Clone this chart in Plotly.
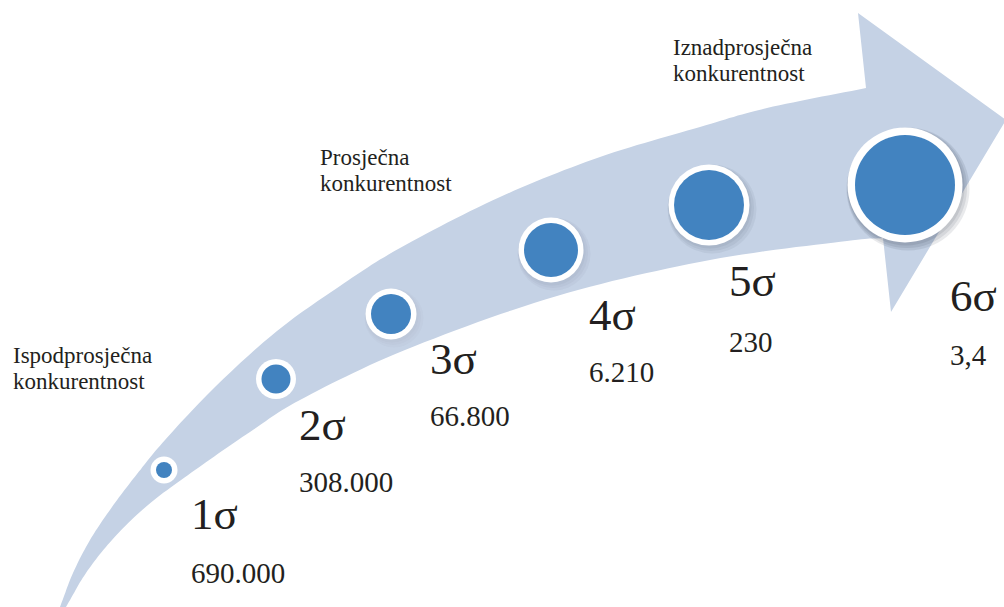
import numpy as np
import plotly.graph_objects as go

# ---------------- data ----------------
sigma_labels = ["1σ", "2σ", "3σ", "4σ", "5σ", "6σ"]
defects_per_million = ["690.000", "308.000", "66.800", "6.210", "230", "3,4"]
zone_line1 = ["Ispodprosječna", "Prosječna", "Iznadprosječna"]
zone_line2 = ["konkurentnost", "konkurentnost", "konkurentnost"]

# ---------------- layout constants (pixel space) ----------------
W, H = 1004, 607
circle_x = [164, 276, 391, 551, 709, 905]
circle_y = [470, 379, 314, 250, 205, 185]
inner_d = [16, 29, 40, 54, 70, 100]
ring = [11, 11, 11, 11, 11, 15]
shadow_strength = [0.0, 0.0, 0.02, 0.04, 0.06, 0.10]

label_x = [189, 297, 428, 587, 727, 948]
sigma_y = [514, 425, 359, 315, 281, 296]
value_y = [573, 482, 416, 372, 342, 355]
zone_x = [11, 318, 671]
zone_y1 = [355, 157, 47]
zone_y2 = [381, 183, 73]

ARROW = "#c5d2e5"
BLUE = "#4283c0"
TEXT = "#231f20"
FONT = "Liberation Serif"

upper_edge = [(60, 607), (73, 573), (90, 540), (112, 507), (137, 474), (165, 440),
              (215, 387), (277, 331), (340, 286), (400, 248), (500, 197),
              (600, 157), (700, 127), (767, 108), (866, 88)]
lower_edge = [(66, 607), (86, 573), (112, 540), (148, 505), (195, 470), (250, 432),
              (300, 400), (405, 350), (557, 296), (710, 260), (847, 241), (883, 238)]
head = [(858, 13), (1006, 120), (891, 312)]


def catmull(points, n=14):
    pts = np.array(points, float)
    ext = np.vstack([2 * pts[0] - pts[1], pts, 2 * pts[-1] - pts[-2]])
    out = []
    for i in range(1, len(ext) - 2):
        p0, p1, p2, p3 = ext[i - 1], ext[i], ext[i + 1], ext[i + 2]
        for t in np.linspace(0, 1, n, endpoint=False):
            t2, t3 = t * t, t * t * t
            out.append(0.5 * ((2 * p1) + (-p0 + p2) * t + (2 * p0 - 5 * p1 + 4 * p2 - p3) * t2
                              + (-p0 + 3 * p1 - 3 * p2 + p3) * t3))
    out.append(pts[-1])
    return np.array(out)


up = catmull(upper_edge)
lo = catmull(lower_edge)[::-1]
poly = list(up) + [np.array(p, float) for p in head] + list(lo)
path = "M " + " L ".join(f"{p[0]:.1f},{p[1]:.1f}" for p in poly) + " Z"

fig = go.Figure()

# shadows (soft, layered)
for k, (dx, dy, grow) in enumerate([(3, 4, 8), (2, 3, 5), (1, 2, 2)]):
    fig.add_trace(go.Scatter(
        x=[x + dx for x in circle_x], y=[y + dy for y in circle_y], mode="markers",
        marker=dict(size=[d + r + grow for d, r in zip(inner_d, ring)],
                    color=[f"rgba(40,50,70,{s})" for s in shadow_strength],
                    opacity=1, line=dict(width=0)),
        hoverinfo="skip", showlegend=False))

# white rings
fig.add_trace(go.Scatter(
    x=circle_x, y=circle_y, mode="markers",
    marker=dict(size=[d + r for d, r in zip(inner_d, ring)], color="white", opacity=1,
                line=dict(width=0)),
    hoverinfo="skip", showlegend=False))
# blue dots
fig.add_trace(go.Scatter(
    x=circle_x, y=circle_y, mode="markers",
    marker=dict(size=inner_d, color=BLUE, opacity=1, line=dict(width=0)),
    text=[f"{s}: {v}" for s, v in zip(sigma_labels, defects_per_million)],
    hoverinfo="text", showlegend=False))

ann = []
for i in range(6):
    ann.append(dict(x=label_x[i], y=sigma_y[i], text=sigma_labels[i], xanchor="left", yanchor="middle",
                    showarrow=False, font=dict(family=FONT, size=45, color=TEXT)))
    ann.append(dict(x=label_x[i], y=value_y[i], text=defects_per_million[i], xanchor="left",
                    yanchor="middle", showarrow=False, font=dict(family=FONT, size=29, color=TEXT)))
for i in range(3):
    ann.append(dict(x=zone_x[i], y=zone_y1[i], text=zone_line1[i], xanchor="left", yanchor="middle",
                    showarrow=False, font=dict(family=FONT, size=23, color=TEXT)))
    ann.append(dict(x=zone_x[i], y=zone_y2[i], text=zone_line2[i], xanchor="left", yanchor="middle",
                    showarrow=False, font=dict(family=FONT, size=23, color=TEXT)))

fig.update_layout(
    width=W, height=H, margin=dict(l=0, r=0, t=0, b=0),
    paper_bgcolor="white", plot_bgcolor="white",
    xaxis=dict(range=[0, W], visible=False, fixedrange=True),
    yaxis=dict(range=[H, 0], visible=False, fixedrange=True),
    shapes=[dict(type="path", path=path, xref="x", yref="y", fillcolor=ARROW,
                 line=dict(width=0), layer="below")],
    annotations=ann,
)

fig.write_html("out.html", config={"displayModeBar": False},
               post_script="document.body.style.margin='0';document.body.style.overflow='hidden';")
